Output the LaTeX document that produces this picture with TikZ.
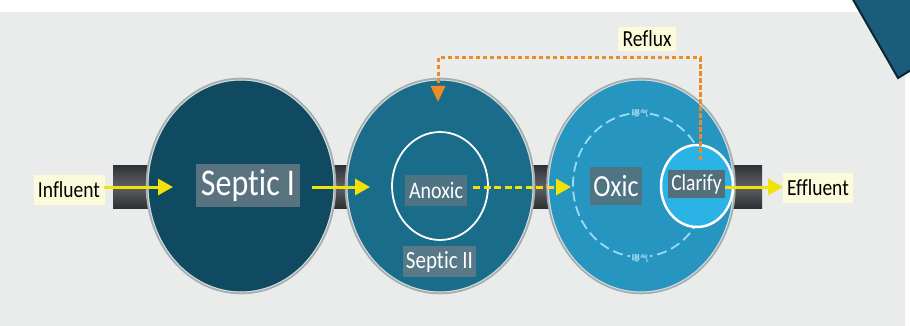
\documentclass[tikz,border=0pt]{standalone}
\usepackage{fontspec}
\setmainfont{Carlito}[Ligatures={NoCommon}]
\newfontfamily\cjkfont{Noto Sans CJK SC}
\usepackage{graphicx}
\usetikzlibrary{arrows.meta,shapes.geometric}
\definecolor{bgc}{HTML}{E9ECEA}
\definecolor{cone}{HTML}{0F4A61}
\definecolor{ctwo}{HTML}{1A6D8A}
\definecolor{cthree}{HTML}{2695C0}
\definecolor{clar}{HTML}{2BB3E6}
\definecolor{rim}{HTML}{A3AEB1}
\definecolor{rimin}{HTML}{D3DBDD}
\definecolor{yel}{HTML}{F2E20A}
\definecolor{org}{HTML}{F08A24}
\definecolor{lab}{HTML}{FBFBDC}
\definecolor{pipedark}{HTML}{2E3134}
\definecolor{pipemid}{HTML}{5C6064}
\definecolor{ring}{HTML}{9ADCF5}
\definecolor{corner}{HTML}{1B5B7C}
\definecolor{cornerline}{HTML}{0C2633}
\definecolor{gbone}{HTML}{58737F}
\definecolor{gbtwo}{HTML}{4E7484}
\definecolor{gbthree}{HTML}{587987}
\definecolor{gbfour}{HTML}{4F7585}
\definecolor{gbfive}{HTML}{52707C}
\newcommand\vtext[1]{\scalebox{1}[1.18]{#1}}
\tikzset{
  tank/.style={ellipse, draw=rim, line width=2.6pt, inner sep=0pt, minimum width=188pt, minimum height=214pt},
  tankrim/.style={ellipse, draw=rimin, line width=1pt, inner sep=0pt, minimum width=186pt, minimum height=212pt},
  graybox/.style={inner sep=0pt, text=white},
  yarrow/.style={draw=yel, line width=3pt, -{Triangle[length=15pt,width=16pt]}},
  ylabel/.style={fill=lab, inner sep=0pt, text=black},
  reflux/.style={draw=org, line width=3pt, dash pattern=on 4.5pt off 2.5pt, -{Triangle[length=16pt,width=14pt]}},
  aer/.style={inner sep=1.2pt, text=ring!50!white, font=\cjkfont\fontsize{8.5}{9}\selectfont}
}
\begin{document}
\begin{tikzpicture}[x=1pt,y=-1pt]
\useasboundingbox (0,0) rectangle (910,326);
\fill[white] (0,0) rectangle (910,326);
\fill[bgc] (0,12) rectangle (905,326);
% corner decoration
\filldraw[fill=corner, draw=cornerline, line width=2pt] (851,-4) -- (898,78) -- (916,67) -- (916,-4) -- cycle;
% pipe
\shade[top color=pipedark, bottom color=pipedark, middle color=pipemid] (113,165) rectangle (762,208);
% tanks
\node[tank, fill=cone] (t1) at (241,186) {};
\node[tankrim] (t1r) at (241,186) {};
\node[tank, fill=ctwo] (t2) at (440,186) {};
\node[tankrim] (t2r) at (440,186) {};
\node[tank, fill=cthree, minimum width=187pt] (t3) at (641,186) {};
\node[tankrim, minimum width=185pt] (t3r) at (641,186) {};
% aeration ring
\node[ellipse, draw=ring, line width=1.8pt, dash pattern=on 10pt off 5pt, minimum width=134pt, minimum height=144pt, inner sep=0pt] (ring) at (640,185) {};
\node[aer, fill=cthree] (aertop) at (640,113) {曝气};
\node[aer, fill=cthree] (aerbot) at (640,258) {曝气};
% inner circles
\node[ellipse, draw=white, line width=1.8pt, minimum width=96pt, minimum height=108pt, inner sep=0pt] (anox) at (440,186) {};
\node[ellipse, fill=clar, draw=white, line width=2.5pt, minimum width=72pt, minimum height=82pt, inner sep=0pt] (clar) at (697,186) {};
% label boxes
\node[graybox, fill=gbone, minimum width=104pt, minimum height=43pt] (septicI) at (248,185.5) {\fontsize{32}{34}\selectfont\vtext{Septic I}};
\node[graybox, fill=gbtwo, minimum width=62pt, minimum height=31pt] (anoxic) at (436,190.5) {\fontsize{20}{22}\selectfont\vtext{Anoxic}};
\node[graybox, fill=gbthree, minimum width=73pt, minimum height=31pt] (septicII) at (439.5,261.5) {\fontsize{21}{23}\selectfont\vtext{Septic II}};
\node[graybox, fill=gbfour, minimum width=52pt, minimum height=38pt] (oxic) at (616,186) {\fontsize{26}{28}\selectfont\vtext{Oxic}};
\node[graybox, fill=gbfive, minimum width=57pt, minimum height=28pt] (clarify) at (696.5,184) {\fontsize{19.5}{21}\selectfont\vtext{Clarify}};
% outer labels
\node[ylabel, minimum width=71pt, minimum height=30pt] (influent) at (69,190) {\fontsize{19.5}{21}\selectfont\vtext{Influent}};
\node[ylabel, minimum width=70pt, minimum height=30pt] (effluent) at (818,188) {\fontsize{19.5}{21}\selectfont\vtext{Effluent}};
\node[ylabel, minimum width=58pt, minimum height=24pt] (refluxlab) at (647,39) {\fontsize{19.5}{21}\selectfont\vtext{Reflux}};
% arrow end points
\coordinate (a1s) at (104,187);
\coordinate (a1e) at (173,187);
\coordinate (a2s) at (312,187);
\coordinate (a2e) at (370,187);
\coordinate (a3s) at (473,187);
\coordinate (a3e) at (571,187);
\coordinate (a4s) at (725,187);
\coordinate (a4e) at (783,187);
\coordinate (rs) at (700,160);
\coordinate (rc1) at (700,58);
\coordinate (rc2) at (438,58);
\coordinate (rt) at (438,102);
% arrows
\draw[yarrow] (a1s) -- (a1e);
\draw[yarrow] (a2s) -- (a2e);
\draw[yarrow, dash pattern=on 7pt off 3.5pt] (a3s) -- (a3e);
\draw[yarrow] (a4s) -- (a4e);
\draw[reflux] (rs) -- (rc1) -- (rc2) -- (rt);
\end{tikzpicture}
\end{document}
